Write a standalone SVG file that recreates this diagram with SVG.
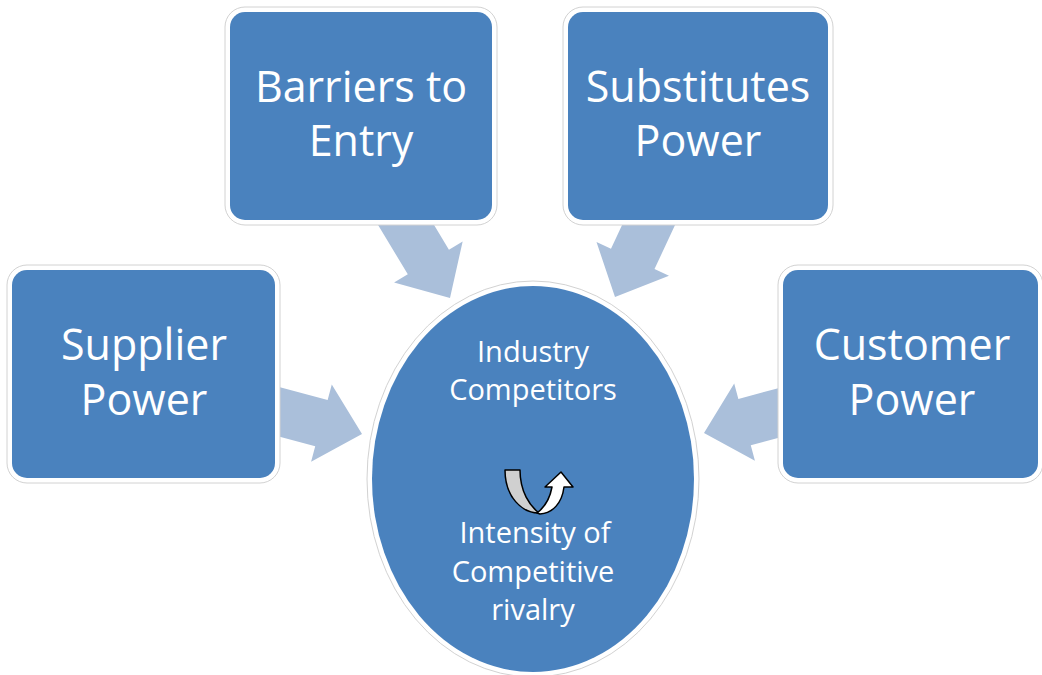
<svg xmlns="http://www.w3.org/2000/svg" width="1042" height="675" viewBox="0 0 1042 675">
  <style>
    .frame { fill: #ffffff; stroke: #d2d2d2; stroke-width: 1; }
    .box { fill: #4A82BE; }
    .conn { fill: #AABFDA; }
    .big { font-family: "Open Sans", "Liberation Sans", sans-serif; font-size: 43px; fill: #ffffff; text-anchor: middle; }
    .small { font-family: "Open Sans", "Liberation Sans", sans-serif; font-size: 29px; fill: #ffffff; text-anchor: middle; }
    .icon { stroke: #000000; stroke-width: 1.5; stroke-linejoin: round; }
  </style>
  <defs>
    <polygon id="arrowShape" points="-100,-24 -42,-24 -42,-40 0,0 -42,40 -42,24 -100,24"/>
  </defs>
  <rect width="1042" height="675" fill="#ffffff"/>

  <g id="connectors">
    <use href="#arrowShape" class="conn" transform="translate(362,434) rotate(15)"/>
    <use href="#arrowShape" class="conn" transform="translate(450,298) rotate(59)"/>
    <use href="#arrowShape" class="conn" transform="translate(615,297) rotate(115)"/>
    <use href="#arrowShape" class="conn" transform="translate(704,433) rotate(165)"/>
  </g>

  <g id="barriers">
    <rect class="frame" x="225" y="7" width="272" height="218" rx="20"/>
    <rect class="box" x="230" y="12" width="262" height="208" rx="15"/>
    <text class="big" x="361" y="102">Barriers to</text>
    <text class="big" x="361" y="156">Entry</text>
  </g>

  <g id="substitutes">
    <rect class="frame" x="563" y="7" width="270" height="218" rx="20"/>
    <rect class="box" x="568" y="12" width="260" height="208" rx="15"/>
    <text class="big" x="698" y="102">Substitutes</text>
    <text class="big" x="698" y="156">Power</text>
  </g>

  <g id="supplier">
    <rect class="frame" x="7" y="265" width="273" height="218" rx="20"/>
    <rect class="box" x="12" y="270" width="263" height="208" rx="15"/>
    <text class="big" x="144" y="360">Supplier</text>
    <text class="big" x="144" y="415">Power</text>
  </g>

  <g id="customer">
    <rect class="frame" x="778" y="265" width="265" height="218" rx="20"/>
    <rect class="box" x="783" y="270" width="255" height="208" rx="15"/>
    <text class="big" x="912" y="360">Customer</text>
    <text class="big" x="912" y="415">Power</text>
  </g>

  <g id="industry">
    <ellipse class="frame" cx="533" cy="479" rx="166" ry="198"/>
    <ellipse class="box" cx="533" cy="479" rx="161" ry="193"/>
    <text class="small" x="533" y="362">Industry</text>
    <text class="small" x="533" y="400">Competitors</text>
    <path class="icon" fill="#D0D0D0" d="M505,470 L520,470 C520,492 530,506 539,513 C522,513 505,497 505,470 Z"/>
    <path class="icon" fill="#ffffff" d="M537,513 C545,507 550,498 552,487 L545,487 L561,472 L573,487 L564,487 C562,503 553,513 540,514 Z"/>
    <text class="small" x="535" y="543">Intensity of</text>
    <text class="small" x="533" y="582">Competitive</text>
    <text class="small" x="533" y="620">rivalry</text>
  </g>
</svg>
